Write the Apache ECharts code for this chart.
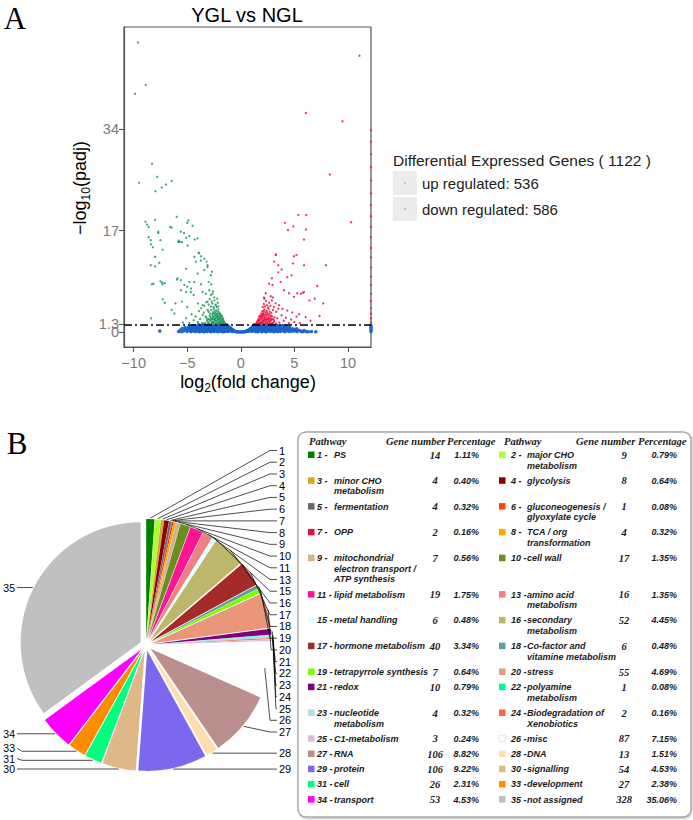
<!DOCTYPE html>
<html><head><meta charset="utf-8">
<script src="https://cdn.jsdelivr.net/npm/echarts@6/dist/echarts.min.js"></script>
<style>html,body{margin:0;padding:0;background:#fff}#c{width:693px;height:820px}</style>
</head><body><div id="c"></div>
<script>
// ===== Panel A : volcano plot data =====
const volcanoTitle = 'YGL vs NGL';
const xTicks = [-10, -5, 0, 5, 10];
const yTicks = [0, 1.3, 17, 34];
const padjThreshold = 1.3;
const degTotal = 1122;
const upCount = 536;
const downCount = 586;

// down regulated (green)
const downPoints = [
[-3.3,1.5],[-3.1,1.8],[-2.95,1.4],[-2.8,1.9],[-2.7,1.5],[-2.6,1.7],[-2.5,1.4],[-2.45,2.0],[-2.35,1.6],[-2.25,1.9],[-2.2,1.4],[-2.1,1.7],[-2.05,2.0],[-1.95,1.5],[-1.9,1.8],[-1.85,1.4],[-1.75,1.6],[-1.7,1.9],[-1.65,1.45],[-1.55,1.55],[-1.5,1.4],[-1.45,1.35],[-1.6,1.7],[-1.8,2.0],[-2.0,1.45],[-2.3,1.35],[-2.65,1.35],[-3.0,1.6],
[-1.52,1.65],[-1.62,1.95],[-1.72,1.35],[-1.82,2.25],[-1.92,1.65],[-2.02,2.15],[-2.12,1.55],[-2.22,2.55],[-2.32,1.85],[-2.42,2.3],[-2.52,1.75],[-2.62,2.2],[-2.72,1.65],[-2.82,2.55],[-2.92,2.05],[-3.05,1.4],[-3.15,2.05],[-2.28,3.05],[-2.38,2.95],[-1.98,2.75],[-2.18,2.65],[-1.76,2.65],[-2.58,3.05],[-2.02,3.05],
[-3.2,2.4],[-3.0,2.2],[-2.9,2.7],[-2.8,2.3],[-2.65,2.9],[-2.6,2.5],[-2.5,2.2],[-2.4,2.7],[-2.3,2.4],[-2.2,2.9],[-2.15,2.2],[-2.05,2.6],[-1.95,2.3],[-1.85,2.8],[-1.8,2.1],[-1.7,2.4],[-1.65,2.2],[-2.7,2.1],[-2.35,2.1],[-1.9,2.5],[-2.1,2.35],[-2.55,2.6],
[-3.0,3.4],[-2.85,3.1],[-2.75,3.7],[-2.6,3.3],[-2.5,3.9],[-2.4,3.2],[-2.3,3.6],[-2.2,3.1],[-2.1,3.8],[-2.0,3.3],[-1.9,3.05],[-2.45,3.5],[-2.15,3.45],
[-2.8,4.3],[-2.65,4.8],[-2.55,4.2],[-2.45,5.3],[-2.35,4.6],[-2.25,4.2],[-2.2,5.6],[-2.15,4.9],[-2.1,4.3],
[-5.4,1.6],[-5.1,2.3],[-4.8,1.5],[-4.6,3.0],[-4.4,2.0],[-4.2,2.6],[-4.0,1.7],[-3.9,3.5],[-3.8,2.2],[-3.7,4.0],[-3.6,1.5],[-3.55,2.9],[-3.45,3.3],[-3.4,4.4],[-3.3,2.6],[-3.2,5.0],[-3.1,3.7],[-3.0,4.6],[-2.9,5.5],[-2.8,6.2],[-2.7,5.1],[-2.6,6.8],
[-6.1,4.8],[-5.5,5.1],[-5.0,4.2],[-4.0,4.8],[-3.56,4.5],[-3.1,5.1],[-2.33,4.5],[-6.45,3.7],[-6.2,3.1],[-8.37,2.3],[-7.3,5.5],[-7.1,4.9],
[-5.58,7.0],[-5.1,6.7],[-4.65,7.3],[-4.4,6.2],[-3.56,6.7],[-3.26,6.4],[-2.95,7.0],[-2.64,6.4],[-2.48,5.8],[-4.8,8.4],[-4.34,8.4],[-3.72,8.0],[-3.0,8.4],[-2.76,8.0],[-5.95,8.8],[-4.03,9.8],[-2.79,9.5],[-5.1,10.6],[-3.1,10.9],[-4.19,11.8],[-3.19,11.8],[-3.41,12.3],[-4.34,12.6],[-3.94,13.3],
[-5.9,9.0],[-5.6,8.7],[-5.27,7.9],[-5.0,7.6],[-4.65,6.7],[-3.72,12.0],[-3.4,10.4],[-3.1,11.2],[-2.7,10.1],[-4.03,15.7],[-3.88,13.2],[-3.72,12.7],[-5.83,15.1],[-5.5,15.1],[-5.3,16.6],[-4.8,16.1],[-4.96,14.5],
[-8.37,14.7],[-8.2,14.2],[-7.7,16.6],[-7.3,13.8],[-8.0,11.0],[-8.16,8.1],[-7.35,8.3],
[-9.6,48.5],[-8.87,41.4],[-9.86,39.9],[-8.28,28.2],[-9.5,25.0],[-7.8,26.0],[-7.97,23.6],[-7.38,24.2],[-6.98,24.7],[-6.45,25.3],[-5.98,19.3],[-8.9,18.5],[-8.75,18.0],[-8.6,17.6],[-8.0,18.8],[-6.6,17.6],[-6.45,17.5],[-7.7,16.8],[-8.6,15.9],[-8.4,15.4],[-7.5,15.4],[-8.0,12.6],[-4.9,18.7],[-4.5,17.8],[-5.0,18.3],[-5.6,16.8],[-5.8,15.3],[-5.7,15.1],[-5.1,15.8],[-4.3,15.5],[-8.4,11.2],[-7.6,11.6],[-8.3,8.0],[-7.5,8.5],[-7.3,8.0],[-7.1,8.2]
];

// up regulated (red)
const upPoints = [
[1.45,1.4],[1.55,1.6],[1.6,1.45],[1.7,1.9],[1.75,1.5],[1.85,1.7],[1.9,1.4],[2.0,2.0],[2.05,1.6],[2.15,1.85],[2.2,1.4],[2.3,1.7],[2.4,2.0],[2.45,1.5],[2.55,1.8],[2.65,1.4],[2.75,1.65],[2.85,1.95],[2.95,1.5],[3.1,1.7],[3.3,1.45],[1.4,1.35],[1.5,1.75],[1.65,2.0],[1.8,1.35],[2.1,1.45],[2.5,1.35],[2.8,1.35],
[1.48,1.5],[1.58,1.85],[1.68,1.4],[1.78,2.05],[1.88,1.6],[1.98,2.3],[2.08,1.8],[2.18,2.55],[2.28,1.95],[2.38,2.25],[2.48,1.65],[2.58,2.35],[2.68,1.85],[2.78,2.7],[2.88,2.1],[3.0,1.4],[3.1,2.0],[2.02,3.0],[2.32,3.0],[1.92,2.5],[2.12,2.85],[1.72,2.7],[2.52,2.95],[2.72,2.25],
[1.65,2.2],[1.75,2.5],[1.8,2.15],[1.9,2.8],[1.95,2.35],[2.05,2.6],[2.15,2.2],[2.2,2.9],[2.3,2.45],[2.4,2.75],[2.5,2.2],[2.6,2.6],[2.7,2.95],[2.8,2.3],[2.9,2.65],[3.0,2.2],[3.15,2.5],[1.85,2.6],[2.25,2.15],[2.6,2.1],[2.0,2.95],
[1.9,3.1],[2.0,3.5],[2.1,3.2],[2.2,3.8],[2.3,3.3],[2.4,3.6],[2.5,3.1],[2.6,3.9],[2.7,3.4],[2.85,3.2],[3.0,3.7],[2.15,3.55],[2.45,3.35],
[2.05,4.2],[2.15,4.7],[2.25,4.3],[2.35,5.2],[2.45,4.5],[2.55,4.1],[2.65,4.9],[2.2,5.6],[2.75,4.4],
[3.26,4.8],[3.57,4.5],[3.88,3.9],[4.34,3.6],[4.81,3.3],[5.43,3.0],[6.05,2.5],[6.5,1.9],[3.4,2.3],[3.6,1.6],[3.8,2.8],[4.0,1.9],[4.2,2.4],[4.5,1.5],[4.7,2.1],[5.0,1.7],[5.2,2.6],[5.5,1.5],[3.3,3.4],[3.5,3.9],[3.1,4.2],[2.9,5.3],[2.8,6.0],[3.0,5.8],
[2.33,6.5],[2.17,5.8],[2.64,8.1],[2.95,7.9],[3.72,8.4],[4.03,7.0],[4.5,6.5],[4.96,5.9],[5.27,6.5],[5.89,6.7],[4.34,9.2],[4.74,9.5],[3.1,11.8],[3.5,11.2],[3.26,12.9],[4.96,12.7],[5.2,12.9],[5.9,11.2],[3.5,10.0],[2.9,9.0],[3.8,10.5],
[11.07,46.3],[6.08,36.7],[9.49,35.3],[8.31,26.4],[10.3,18.4],[5.37,19.6],[6.11,19.6],[4.12,18.3],[4.9,17.7],[4.4,17.1],[6.08,17.2],[5.9,15.5],[4.87,11.5],[3.29,13.0],[7.94,11.2],[7.13,7.7],[5.8,6.6],[5.6,6.4],[7.69,4.8],[7.35,2.7],[6.9,5.6],[6.4,5.3],
[12.15,1.6],[12.15,2.3],[12.15,3.1],[12.15,4.0],[12.15,5.2],[12.15,6.4],[12.15,7.9],[12.15,9.3],[12.15,10.8],[12.15,12.5],[12.15,14.1],[12.15,15.9],[12.15,17.6],[12.15,19.4],[12.15,21.3],[12.15,23.2],[12.15,25.4],[12.15,27.6],[12.15,29.8],[12.15,31.9],[12.15,33.8]
];

// not significant (blue)
const nsPoints = [
[-7.56,0.17],[-5.8,0.1],[-5.65,0.35],[-5.5,0.05],[-5.45,0.6],[-5.3,0.25],[-5.2,0.75],[-5.1,0.45],[-5.0,0.12],[-4.95,0.65],[-4.85,0.9],[-4.8,0.35],[-4.7,0.8],[-4.65,0.08],[-4.6,0.55],[-4.5,1.0],[-4.45,0.25],[-4.4,0.75],[-4.3,0.45],[-4.25,1.05],[-4.2,0.1],[-4.1,0.6],[-4.05,0.9],[-4.0,0.3],[-3.95,1.2],[-3.9,0.5],[-3.85,0.05],[-3.8,0.8],[-3.75,0.35],[-3.7,1.1],[-3.65,0.6],[-3.6,0.15],[-3.55,0.95],[-3.5,0.45],[-3.45,1.25],[-3.4,0.7],[-3.35,0.2],[-3.3,1.0],[-3.25,0.5],[-3.2,0.85],[-3.15,0.1],[-3.1,0.65],[-3.05,1.2],[-3.0,0.35],[-2.95,0.9],[-2.9,0.55],[-2.85,0.15],[-2.8,1.1],[-2.75,0.75],[-2.7,0.3],[-2.65,1.25],[-2.6,0.6],[-2.55,0.95],[-2.5,0.1],[-2.45,0.45],[-2.4,1.15],[-2.35,0.8],[-2.3,0.25],[-2.25,1.0],[-2.2,0.55],[-2.15,0.05],[-2.1,0.7],[-2.05,1.2],[-2.0,0.4],[-1.95,0.9],[-1.9,0.15],[-1.85,0.6],[-1.8,1.1],[-1.75,0.35],[-1.7,0.8],[-1.65,1.25],[-1.6,0.5],[-1.55,0.1],[-1.5,0.95],[-1.45,0.65],[-1.4,0.3],[-1.35,1.2],[-1.3,0.8],[-1.25,0.45],[-1.2,1.05],[-1.15,0.15],[-1.1,0.85],[-1.05,0.5],[-1.0,0.7],[-0.95,0.25],[-0.9,0.6],[-0.85,0.4],[-0.8,0.1],[-0.75,0.4],[-0.7,0.25],[-0.6,0.15],[-0.5,0.1],[-0.4,0.05],[-0.25,0.04],[-0.1,0.02],
[-3.62,0.75],[-3.28,0.3],[-2.98,1.05],[-2.72,0.5],[-2.48,0.85],[-2.22,0.3],[-1.98,0.6],[-1.72,1.05],[-1.48,0.2],[-1.28,1.15],[-1.62,0.85],[-1.92,1.25],[-2.18,0.95],[-2.58,0.3],[-3.12,0.9],[-1.38,0.55],[-1.12,0.6],[-4.52,0.6],[-4.15,0.35],[-3.82,1.0],
[-4.35,0.2],[-4.18,0.85],[-3.98,0.55],[-3.78,0.25],[-3.58,1.15],[-3.42,0.05],[-3.18,0.4],[-2.92,0.25],[-2.68,0.95],[-2.42,0.3],[-2.12,0.45],[-1.88,0.35],[-1.68,0.05],[-1.58,0.7],[-1.42,1.0],[-1.32,0.15],[-2.78,0.05],[-3.48,0.6],[-3.92,0.15],[-4.62,0.3],
[0.05,0.03],[0.2,0.04],[0.35,0.06],[0.45,0.1],[0.55,0.2],[0.65,0.15],[0.7,0.35],[0.78,0.2],[0.85,0.5],[0.9,0.3],[0.95,0.65],[1.0,0.15],[1.05,0.8],[1.1,0.45],[1.15,1.0],[1.2,0.25],[1.25,1.2],[1.3,0.6],[1.35,0.9],[1.4,0.1],[1.45,1.25],[1.5,0.4],[1.55,0.75],[1.6,1.1],[1.65,0.2],[1.7,0.55],[1.75,0.95],[1.8,0.3],[1.85,1.2],[1.9,0.7],[1.95,0.05],[2.0,0.45],[2.05,1.0],[2.1,0.8],[2.15,0.2],[2.2,1.25],[2.25,0.6],[2.3,0.35],[2.35,0.9],[2.4,0.1],[2.45,1.15],[2.5,0.5],[2.55,0.75],[2.6,0.25],[2.65,1.05],[2.7,0.6],[2.75,0.15],[2.8,0.9],[2.85,0.4],[2.9,1.2],[2.95,0.7],[3.0,0.3],[3.05,1.0],[3.1,0.05],[3.15,0.55],[3.2,0.85],[3.25,0.2],[3.3,1.2],[3.35,0.45],[3.4,0.75],[3.45,0.1],[3.5,1.0],[3.55,0.35],[3.6,0.6],[3.7,0.9],[3.75,0.15],[3.8,0.5],[3.9,1.1],[3.95,0.3],[4.0,0.7],[4.1,0.05],[4.15,0.45],[4.2,0.95],[4.3,0.25],[4.4,0.6],[4.5,0.1],[4.55,0.8],[4.65,0.35],[4.75,0.15],[4.85,0.55],[5.0,0.2],[5.1,0.4],[5.25,0.1],[5.4,0.3],[5.6,0.15],[5.75,0.05],[5.9,0.25],[6.1,0.1],[6.3,0.05],[6.6,0.1],[7.0,0.05],
[1.12,0.65],[1.38,1.05],[1.62,0.45],[1.88,0.95],[2.12,1.15],[2.38,0.65],[2.62,1.2],[2.88,0.2],[3.12,0.75],[3.38,1.05],[1.28,0.35],[1.52,1.15],[1.78,0.7],[2.02,0.25],[2.28,1.05],[2.52,0.9],[2.78,0.55],[3.62,0.9],[3.88,0.7],[4.25,0.6],
[1.18,0.8],[1.32,0.2],[1.42,0.75],[1.58,0.05],[1.68,0.95],[1.82,0.55],[1.98,1.2],[2.18,0.45],[2.42,0.3],[2.68,0.85],[2.92,1.0],[3.18,0.35],[3.42,0.55],[3.68,0.25],[3.92,0.9],[4.08,0.4],[4.35,0.85],[4.6,0.5],[4.9,0.3],[5.2,0.55],[2.32,0.05],[2.72,0.35],[3.02,0.6],[3.28,0.95],[3.52,0.2],[1.72,0.35],[1.48,0.6],[2.58,1.1],
[12.15,0.1],[12.15,0.35],[12.15,0.6],[12.15,0.85],[12.15,1.1]
];

// ===== Panel B : MapMan pathway pie data =====
const pathwayIds = [1,2,3,4,5,6,7,8,9,10,11,13,15,16,17,18,19,20,21,22,23,24,25,26,27,28,29,30,31,33,34,35];
const pathwayNames = [
'PS','major CHO\nmetabolism','minor CHO\nmetabolism','glycolysis','fermentation','gluconeogenesis /\nglyoxylate cycle',
'OPP','TCA / org\ntransformation','mitochondrial\nelectron transport /\nATP synthesis','cell wall','lipid metabolism','amino acid\nmetabolism',
'metal handling','secondary\nmetabolism','hormone metabolism','Co-factor and\nvitamine metabolism','tetrapyrrole synthesis','stress',
'redox','polyamine\nmetabolism','nucleotide\nmetabolism','Biodegradation of\nXenobiotics','C1-metabolism','misc',
'RNA','DNA','protein','signalling','cell','development','transport','not assigned'];
const geneNumbers = [14,9,4,8,4,1,2,4,7,17,19,16,6,52,40,6,7,55,10,1,4,2,3,87,106,13,106,54,26,27,53,328];
const percentages = [1.11,0.79,0.40,0.64,0.32,0.08,0.16,0.32,0.56,1.35,1.75,1.35,0.48,4.45,3.34,0.48,0.64,4.69,0.79,0.08,0.32,0.16,0.24,7.15,8.82,1.51,9.22,4.53,2.31,2.38,4.53,35.06];
const pathwayColors = ['#008000','#adff2f','#daa520','#8b0000','#696969','#ff4500','#dc143c','#ffa500','#d2b48c','#6b8e23','#ff1493','#f08080',
'#e0ffff','#bdb76b','#a52a2a','#5f9ea0','#7cfc00','#e9967a','#800080','#00fa9a','#b0e0e6','#ff6347','#d8bfd8','#fdfdfd',
'#bc8f8f','#ffdead','#7b68ee','#deb887','#00ff7f','#ff8c00','#ff00ff','#c0c0c0'];
const tableHeaders = ['Pathway','Gene number','Percentage'];

// ===== layout / style =====
const SANS = 'Liberation Sans', SERIF = 'Liberation Serif';
const pieCx = 146, pieCy = 645, pieR = 120, pieOff = 6;
const explodedSkip = [23]; // 'misc' slice not exploded

const total = percentages.reduce((a,b)=>a+b,0);
const midFrac = []; { let acc = 0; percentages.forEach(p => { midFrac.push((acc + p/2)/total); acc += p; }); }
function edgePoint(i){
  const a = midFrac[i]*2*Math.PI;
  const rr = pieR + (explodedSkip.includes(i) ? 0 : pieOff) + 1;
  return [pieCx + rr*Math.sin(a), pieCy - rr*Math.cos(a)];
}

const pieData = percentages.map((p,i)=>({
  value: p, name: String(pathwayIds[i]),
  selected: !explodedSkip.includes(i),
  itemStyle: {color: pathwayColors[i]}
}));

const chart = echarts.init(document.getElementById('c'), null, {renderer:'svg'});

const g = [];
function txt(x,y,text,st,extra){ g.push(Object.assign({type:'text', x, y, silent:true, style:Object.assign({text, fill:'#000', fontFamily:SANS}, st)}, extra||{})); }

// panel letters and titles
txt(15,18,'A',{fontFamily:SERIF,fontSize:31,align:'center',verticalAlign:'middle'});
txt(17,443,'B',{fontFamily:SERIF,fontSize:31,align:'center',verticalAlign:'middle'});
txt(247,15,volcanoTitle,{fontSize:20,align:'center',verticalAlign:'middle'});
txt(80,188,'{a|\u2212log}{b|10}{a|(padj)}',{align:'center',verticalAlign:'middle',
  rich:{a:{fontSize:18,fontFamily:SANS,fill:'#000',lineHeight:24},b:{fontSize:12,fontFamily:SANS,fill:'#000',lineHeight:24,verticalAlign:'bottom'}}},{rotation:Math.PI/2});
txt(248,382,'{a|log}{b|2}{a|(fold change)}',{align:'center',verticalAlign:'middle',
  rich:{a:{fontSize:18,fontFamily:SANS,fill:'#000',lineHeight:24},b:{fontSize:12,fontFamily:SANS,fill:'#000',lineHeight:24,verticalAlign:'bottom'}}});

// volcano legend
txt(393,160,'Differential Expressed Genes ( ' + degTotal + ' )',{fontSize:15.5,fill:'#222',verticalAlign:'middle'});
[[183,'up regulated: '+upCount,'#f0a0b4'],[209,'down regulated: '+downCount,'#80ccb4']].forEach(([y,t,c])=>{
  g.push({type:'rect',silent:true,shape:{x:393,y:y-12,width:24,height:24},style:{fill:'#ececec'}});
  g.push({type:'circle',silent:true,shape:{cx:405,cy:y,r:1},style:{fill:c}});
  txt(422,y,t,{fontSize:15,fill:'#222',verticalAlign:'middle'});
});

// pie labels with leader lines (positions derived from slice angles)
const leftLabelY = {};
{ // left side: walk from the lowest slice upward, keeping at least 10.5px between labels
  let prev = Infinity;
  for (let i = 0; i < pathwayIds.length; i++) {
    if (midFrac[i] < 0.5) continue;
    const e = edgePoint(i);
    const y = Math.min(e[1], prev - 10.5);
    leftLabelY[i] = y; prev = y;
  }
}
pathwayIds.forEach((id,i)=>{
  const e = edgePoint(i);
  let pts, tx, ty, al, fs;
  if (midFrac[i] < 0.5) {
    const stack = 450.5 + i*11.73;
    ty = midFrac[i] > 0.35 ? Math.max(stack, e[1]) : stack;
    pts = [e,[Math.max(e[0]+3,270),ty],[277,ty]]; tx = 279; al = 'left'; fs = 11;
  } else {
    ty = leftLabelY[i];
    pts = Math.abs(ty - e[1]) > 0.5 ? [e,[22,e[1]],[17,ty]] : [e,[17,ty]];
    tx = 15; al = 'right'; fs = 10.5;
  }
  g.push({type:'polyline',silent:true,z:10,shape:{points:pts},style:{stroke:'#000',lineWidth:0.7,fill:null}});
  txt(tx,ty,String(id),{fontSize:fs,align:al,verticalAlign:'middle'},{z:10});
});

// table box
g.push({type:'rect',silent:true,z:-1,shape:{x:298,y:432,width:393,height:385,r:8},style:{fill:'#fff',stroke:'#a8a8a8',lineWidth:1.4,shadowBlur:2,shadowColor:'rgba(0,0,0,0.25)',shadowOffsetX:1,shadowOffsetY:1}});
const colX = [{sq:308,pre:317,name:334,num:435,pct:479,h:[309,386,447]},{sq:499,pre:511,name:527,num:624,pct:677,h:[504,576,638]}];
colX.forEach(c=>tableHeaders.forEach((h,k)=>txt(c.h[k],441,h,{fontFamily:SERIF,fontSize:10.5,fontWeight:'bold',fontStyle:'italic',fill:'#1a1a1a',verticalAlign:'middle'})));
let rowY = 455;
const LH = 10.6;
for (let i=0;i<pathwayIds.length;i+=2){
  const lines = Math.max(pathwayNames[i].split('\n').length, (pathwayNames[i+1]||'').split('\n').length);
  [i,i+1].forEach((j,c)=>{
    if (j>=pathwayIds.length) return;
    const cx = colX[c];
    g.push({type:'rect',silent:true,shape:{x:cx.sq,y:rowY-3.5,width:6.5,height:6.5},style:{fill:pathwayColors[j],stroke:j===23?'#e6e6e6':null,lineWidth:1}});
    const bi = {fontSize:9,fontWeight:'bold',fontStyle:'italic',fill:'#1a1a1a'};
    txt(cx.pre,rowY,pathwayIds[j]+' -',Object.assign({verticalAlign:'middle'},bi));
    txt(cx.name,rowY-LH/2,pathwayNames[j],Object.assign({verticalAlign:'top',lineHeight:LH},bi));
    txt(cx.num,rowY,String(geneNumbers[j]),{fontFamily:SERIF,fontSize:10.5,fontWeight:'bold',fontStyle:'italic',fill:'#1a1a1a',align:'center',verticalAlign:'middle'});
    txt(cx.pct,rowY,percentages[j].toFixed(2)+'%',Object.assign({align:'right',verticalAlign:'middle'},bi));
  });
  rowY += lines*LH + 4.6;
}

const axisLabelStyle = {color:'#7a7a7a',fontSize:14.5,fontFamily:SANS,hideOverlap:false};
const fmt = v => (v<0 ? '\u2212'+Math.abs(v) : String(v));
const yMin = -2.5, yMax = 51.1;
// the threshold tick (1.3) sits on its own overlaid axis so it is not hidden next to 0
const yMainTicks = yTicks.filter(v => v !== padjThreshold);
const yThreshTicks = yTicks.filter(v => v === padjThreshold);

chart.setOption({
  animation:false,
  backgroundColor:'#fff',
  grid:[{left:124,top:27,width:247,height:320,show:true,borderColor:'#555',borderWidth:1.2,backgroundColor:'transparent'}],
  xAxis:[{type:'value',min:-10.9,max:12.15,splitLine:{show:false},
    axisLine:{show:true,onZero:false,lineStyle:{color:'#555',width:1.2}},
    axisTick:{show:true,length:5,customValues:xTicks,lineStyle:{color:'#555',width:1.1}},
    axisLabel:Object.assign({},axisLabelStyle,{customValues:xTicks,margin:8,formatter:fmt})}],
  yAxis:[
    {type:'value',min:yMin,max:yMax,splitLine:{show:false},position:'left',
      axisLine:{show:true,onZero:false,lineStyle:{color:'#555',width:1.2}},
      axisTick:{show:true,length:5,customValues:yMainTicks,lineStyle:{color:'#555',width:1.1}},
      axisLabel:Object.assign({},axisLabelStyle,{customValues:yMainTicks,margin:5,formatter:v=>String(v)})},
    {type:'value',min:yMin,max:yMax,splitLine:{show:false},position:'left',offset:0,
      axisLine:{show:false,onZero:false},
      axisTick:{show:true,length:5,customValues:yThreshTicks,lineStyle:{color:'#555',width:1.1}},
      axisLabel:Object.assign({},axisLabelStyle,{customValues:yThreshTicks,margin:5,formatter:v=>String(v)})}
  ],
  series:[
    {type:'scatter',name:'not significant',data:nsPoints,symbolSize:3.6,itemStyle:{color:'#1a62cc',opacity:0.95},silent:true,z:2},
    {type:'scatter',name:'down regulated',data:downPoints,symbolSize:2.3,itemStyle:{color:'#1f9a5e',opacity:0.85},silent:true,z:3},
    {type:'scatter',name:'up regulated',data:upPoints,symbolSize:2.3,itemStyle:{color:'#e8173e',opacity:0.85},silent:true,z:3},
    {type:'scatter',name:'threshold',data:[],z:5,silent:true,
      markLine:{silent:true,symbol:'none',label:{show:false},animation:false,
        lineStyle:{color:'#000',width:1.5,type:[8,3,2,3]},data:[{yAxis:padjThreshold}]}},
    {type:'pie',center:[pieCx,pieCy],radius:pieR,startAngle:90,clockwise:true,
      selectedMode:'multiple',selectedOffset:pieOff,avoidLabelOverlap:false,silent:true,
      emphasis:{disabled:true},
      data:pieData,
      label:{show:false},labelLine:{show:false}
    }
  ],
  graphic:g
});
</script></body></html>
